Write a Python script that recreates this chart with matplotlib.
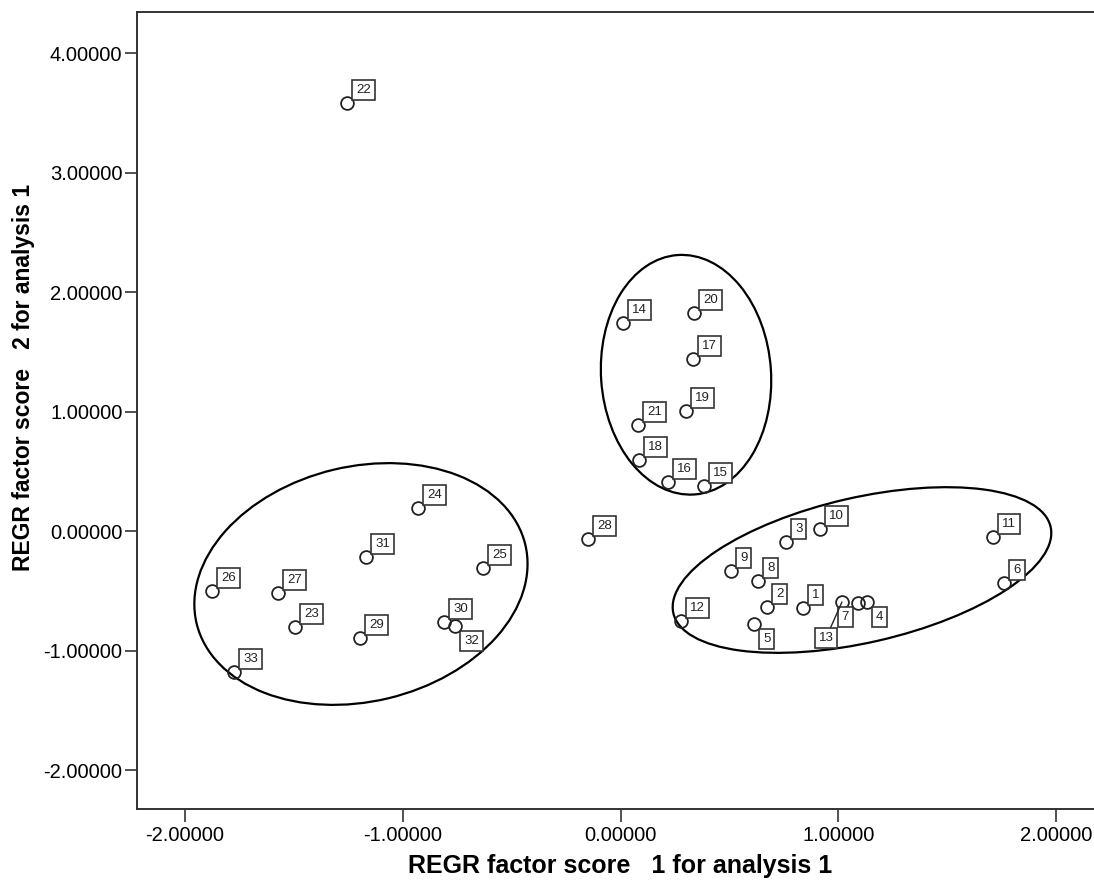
import matplotlib
matplotlib.use("Agg")
import matplotlib.pyplot as plt
import matplotlib.transforms as transforms
from matplotlib.patches import Ellipse

# factor scores, case ids 1..33
case_ids = list(range(1, 34))
factor1 = [0.838, 0.673, 0.760, 1.132, 0.613, 1.763, 1.091, 0.631, 0.507, 0.916,
           1.710, 0.278, 1.017, 0.011, 0.383, 0.218, 0.333, 0.085, 0.301, 0.338,
           0.080, -1.256, -1.495, -0.930, -0.631, -1.876, -1.573, -0.149, -1.196, -0.810,
           -1.168, -0.760, -1.775]
factor2 = [-0.642, -0.634, -0.090, -0.592, -0.776, -0.433, -0.600, -0.416, -0.333, 0.019,
           -0.048, -0.751, -0.592, 1.743, 0.379, 0.413, 1.442, 0.597, 1.007, 1.827,
           0.890, 3.584, -0.801, 0.195, -0.307, -0.500, -0.516, -0.064, -0.893, -0.760,
           -0.215, -0.792, -1.177]

xticks = [-2, -1, 0, 1, 2]
yticks = [-2, -1, 0, 1, 2, 3, 4]

# hand drawn cluster rings: centre (data), width/height (px), angle (deg)
clusters = [
    ((-1.192, -0.441), 338, 235, 13.5),
    ((0.301, 1.310), 170, 240, 4.0),
    ((1.109, -0.324), 387, 145, 12.9),
]

# labels that sit somewhere other than up-right of the point
label_below_right = {4, 5, 32}
label_below_left = {7}
label_leader = {13: (-16, -36)}   # px offset of box centre

plt.rcParams['font.family'] = ['Liberation Sans', 'DejaVu Sans']

fig = plt.figure(figsize=(10.94, 8.86), dpi=100)
ax = fig.add_axes([137 / 1094, 77 / 886, (1100 - 137) / 1094, (809 - 12) / 886])

ax.plot(factor1, factor2, 'o', mfc='none', mec='#222222', ms=9.2, mew=1.3, zorder=3)

px = 0.72  # points per pixel at dpi 100
box = dict(boxstyle='square,pad=0.3', fc='white', ec='#333333', lw=1.2)
lab_fs = 9.5
for cid, x, y in zip(case_ids, factor1, factor2):
    if cid in label_leader:
        dx, dy = label_leader[cid]
        ax.annotate(str(cid), (x, y), xytext=(dx * px, dy * px), textcoords='offset points',
                    ha='center', va='center', fontsize=lab_fs, color='#222222', bbox=box,
                    arrowprops=dict(arrowstyle='-', color='#222222', lw=1, shrinkA=0, shrinkB=0),
                    zorder=4)
        continue
    if cid in label_below_right:
        off, ha, va = (9 * px, -9 * px), 'left', 'top'
    elif cid in label_below_left:
        off, ha, va = (-9 * px, -8 * px), 'right', 'top'
    else:
        off, ha, va = (9 * px, 7 * px), 'left', 'bottom'
    ax.annotate(str(cid), (x, y), xytext=off, textcoords='offset points',
                ha=ha, va=va, fontsize=lab_fs, color='#222222', bbox=box, zorder=4)

for (cx, cy), w, h, ang in clusters:
    tr = fig.dpi_scale_trans + transforms.ScaledTranslation(cx, cy, ax.transData)
    ax.add_patch(Ellipse((0, 0), w / 100, h / 100, angle=ang, transform=tr,
                         fill=False, ec='black', lw=1.6, zorder=2))

ax.set_xlim((137 - 620.5) / 217.75, (1100 - 620.5) / 217.75)
ax.set_ylim((531.3 - 809) / 119.5, (531.3 - 12) / 119.5)
ax.set_xticks(xticks)
ax.set_yticks(yticks)
ax.set_xticklabels([f"{v:.5f}" for v in xticks])
ax.set_yticklabels([f"{v:.5f}" for v in yticks])
ax.tick_params(axis='x', length=9, width=1.2, color='#333333', labelsize=14.5, pad=3)
ax.tick_params(axis='y', length=9, width=1.2, color='#333333', labelsize=14.5, pad=1.5)
for sp in ax.spines.values():
    sp.set_linewidth(1.4)
    sp.set_color('#333333')

ax.set_xlabel("REGR factor score   1 for analysis 1", fontsize=18, fontweight='bold')
ax.set_ylabel("REGR factor score   2 for analysis 1", fontsize=16.5, fontweight='bold')
# title positions given in figure pixels (y counted from the bottom)
ax.xaxis.set_label_coords(620.5 / 1094, 1 - 866 / 886, transform=fig.transFigure)
ax.xaxis.label.set_va('center')
ax.yaxis.set_label_coords(24 / 1094, 1 - 377 / 886, transform=fig.transFigure)
ax.yaxis.label.set_va('center')

fig.savefig("out.png", dpi=100)
